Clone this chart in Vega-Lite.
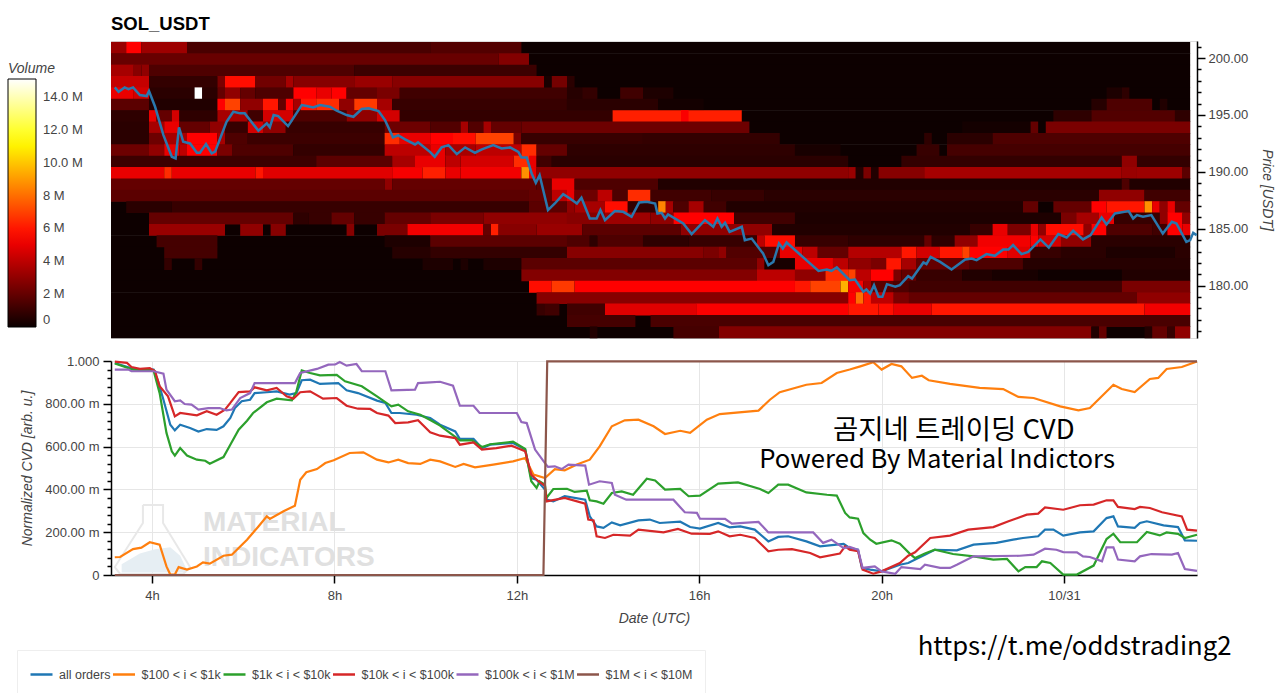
{"$schema":"https://vega.github.io/schema/vega-lite/v6.json","autosize":{"type":"pad"},"padding":{"left":7,"top":14,"right":0,"bottom":0},"background":"white",
"config":{"font":"Liberation Sans","axis":{"labelFont":"Liberation Sans","labelFontSize":13,"labelColor":"#444444","titleFont":"Liberation Sans","titleFontSize":14,"titleFontStyle":"italic","titleFontWeight":"normal","titleColor":"#444444","domainColor":"#000000","tickColor":"#000000","domainWidth":1.5,"tickWidth":1.5},"legend":{"labelFont":"Liberation Sans","titleFont":"Liberation Sans"}},
"datasets":{
"heat":[
{"minute":186,"end":1606,"price":200.9,"vol":0.05},{"minute":186,"end":1606,"price":199.9,"vol":0.05},{"minute":186,"end":1606,"price":198.9,"vol":0.05},{"minute":186,"end":1606,"price":197.9,"vol":0.05},{"minute":186,"end":1606,"price":196.9,"vol":0.05},{"minute":186,"end":1606,"price":195.9,"vol":0.05},{"minute":186,"end":1606,"price":194.9,"vol":0.05},{"minute":186,"end":1606,"price":193.9,"vol":0.05},{"minute":186,"end":1606,"price":192.9,"vol":0.05},{"minute":186,"end":1606,"price":191.9,"vol":0.05},{"minute":186,"end":1606,"price":190.9,"vol":0.05},{"minute":186,"end":1606,"price":189.9,"vol":0.05},{"minute":186,"end":1606,"price":188.9,"vol":0.05},{"minute":186,"end":1606,"price":187.9,"vol":0.05},{"minute":186,"end":1606,"price":186.9,"vol":0.05},{"minute":186,"end":1606,"price":185.9,"vol":0.05},{"minute":186,"end":1606,"price":184.9,"vol":0.05},{"minute":186,"end":1606,"price":183.9,"vol":0.05},{"minute":186,"end":1606,"price":182.9,"vol":0.05},{"minute":186,"end":1606,"price":181.9,"vol":0.05},{"minute":186,"end":1606,"price":180.9,"vol":0.05},{"minute":186,"end":1606,"price":179.9,"vol":0.05},{"minute":186,"end":1606,"price":178.9,"vol":0.05},{"minute":186,"end":1606,"price":177.9,"vol":0.05},{"minute":186,"end":1606,"price":176.9,"vol":0.05},{"minute":186,"end":1606,"price":175.9,"vol":0.05},
{"minute":186,"end":206,"price":200.9,"vol":3.2},{"minute":206,"end":226,"price":200.9,"vol":5.5},{"minute":226,"end":286,"price":200.9,"vol":3.3},{"minute":286,"end":606,"price":200.9,"vol":1.4},{"minute":606,"end":726,"price":200.9,"vol":1.6},
{"minute":186,"end":696,"price":199.9,"vol":2.1},{"minute":696,"end":736,"price":199.9,"vol":2.7},
{"minute":186,"end":216,"price":198.9,"vol":3.5},{"minute":216,"end":226,"price":198.9,"vol":2.8},{"minute":226,"end":236,"price":198.9,"vol":3},{"minute":236,"end":506,"price":198.9,"vol":1.5},{"minute":506,"end":746,"price":198.9,"vol":1.1},
{"minute":186,"end":236,"price":197.9,"vol":4.2},{"minute":236,"end":326,"price":197.9,"vol":0.9},{"minute":326,"end":336,"price":197.9,"vol":2.5},{"minute":336,"end":376,"price":197.9,"vol":5.8},{"minute":376,"end":416,"price":197.9,"vol":2.3},{"minute":416,"end":426,"price":197.9,"vol":3.5},{"minute":426,"end":506,"price":197.9,"vol":2.8},{"minute":506,"end":556,"price":197.9,"vol":3.2},{"minute":556,"end":756,"price":197.9,"vol":2.8},{"minute":756,"end":766,"price":197.9,"vol":0.3},{"minute":766,"end":786,"price":197.9,"vol":2.4},{"minute":786,"end":796,"price":197.9,"vol":0.7},
{"minute":186,"end":216,"price":196.9,"vol":5},{"minute":216,"end":236,"price":196.9,"vol":4.5},{"minute":236,"end":296,"price":196.9,"vol":0.7},{"minute":296,"end":306,"price":196.9,"vol":15.1},{"minute":306,"end":326,"price":196.9,"vol":0.7},{"minute":326,"end":336,"price":196.9,"vol":2},{"minute":336,"end":356,"price":196.9,"vol":3},{"minute":356,"end":376,"price":196.9,"vol":2},{"minute":376,"end":426,"price":196.9,"vol":1.5},{"minute":426,"end":456,"price":196.9,"vol":5.5},{"minute":456,"end":476,"price":196.9,"vol":5},{"minute":476,"end":496,"price":196.9,"vol":5.5},{"minute":496,"end":536,"price":196.9,"vol":2},{"minute":536,"end":566,"price":196.9,"vol":2.5},{"minute":566,"end":786,"price":196.9,"vol":1.2},{"minute":786,"end":806,"price":196.9,"vol":0.6},{"minute":806,"end":826,"price":196.9,"vol":0.9},{"minute":856,"end":886,"price":196.9,"vol":1.2},{"minute":886,"end":926,"price":196.9,"vol":0.4},{"minute":1496,"end":1516,"price":196.9,"vol":0.4},{"minute":1516,"end":1526,"price":196.9,"vol":0.8},
{"minute":186,"end":236,"price":195.9,"vol":1.8},{"minute":236,"end":326,"price":195.9,"vol":0.5},{"minute":326,"end":336,"price":195.9,"vol":5.5},{"minute":336,"end":356,"price":195.9,"vol":7},{"minute":356,"end":386,"price":195.9,"vol":3},{"minute":386,"end":406,"price":195.9,"vol":6},{"minute":406,"end":416,"price":195.9,"vol":2},{"minute":416,"end":426,"price":195.9,"vol":5.5},{"minute":426,"end":436,"price":195.9,"vol":3.5},{"minute":436,"end":456,"price":195.9,"vol":6},{"minute":456,"end":486,"price":195.9,"vol":6.5},{"minute":486,"end":506,"price":195.9,"vol":3},{"minute":506,"end":536,"price":195.9,"vol":6.8},{"minute":536,"end":556,"price":195.9,"vol":3.5},{"minute":556,"end":786,"price":195.9,"vol":1},{"minute":786,"end":906,"price":195.9,"vol":0.7},{"minute":906,"end":966,"price":195.9,"vol":0.2},{"minute":1476,"end":1496,"price":195.9,"vol":0.6},{"minute":1496,"end":1556,"price":195.9,"vol":1.5},{"minute":1566,"end":1576,"price":195.9,"vol":0.5},
{"minute":186,"end":236,"price":194.9,"vol":0.8},{"minute":236,"end":246,"price":194.9,"vol":5},{"minute":246,"end":266,"price":194.9,"vol":2},{"minute":266,"end":276,"price":194.9,"vol":4.5},{"minute":276,"end":326,"price":194.9,"vol":0.8},{"minute":326,"end":366,"price":194.9,"vol":3.5},{"minute":366,"end":386,"price":194.9,"vol":1.2},{"minute":386,"end":426,"price":194.9,"vol":4.5},{"minute":426,"end":496,"price":194.9,"vol":1.5},{"minute":496,"end":536,"price":194.9,"vol":3},{"minute":536,"end":566,"price":194.9,"vol":4.5},{"minute":566,"end":846,"price":194.9,"vol":0.9},{"minute":846,"end":1016,"price":194.9,"vol":6.2},{"minute":936,"end":946,"price":194.9,"vol":5.4},{"minute":1426,"end":1476,"price":194.9,"vol":0.8},{"minute":1476,"end":1586,"price":194.9,"vol":1.6},{"minute":1586,"end":1606,"price":194.9,"vol":0.8},
{"minute":186,"end":236,"price":193.9,"vol":0.7},{"minute":236,"end":256,"price":193.9,"vol":3.5},{"minute":256,"end":276,"price":193.9,"vol":5},{"minute":276,"end":316,"price":193.9,"vol":2},{"minute":316,"end":336,"price":193.9,"vol":3},{"minute":336,"end":366,"price":193.9,"vol":1},{"minute":366,"end":386,"price":193.9,"vol":4.5},{"minute":386,"end":416,"price":193.9,"vol":3},{"minute":416,"end":546,"price":193.9,"vol":1},{"minute":546,"end":606,"price":193.9,"vol":2.2},{"minute":606,"end":646,"price":193.9,"vol":1.6},{"minute":646,"end":656,"price":193.9,"vol":3.5},{"minute":656,"end":676,"price":193.9,"vol":1.6},{"minute":676,"end":686,"price":193.9,"vol":3.5},{"minute":686,"end":726,"price":193.9,"vol":2},{"minute":726,"end":1026,"price":193.9,"vol":2.2},{"minute":1306,"end":1396,"price":193.9,"vol":0.2},{"minute":1396,"end":1406,"price":193.9,"vol":2},{"minute":1416,"end":1606,"price":193.9,"vol":2.5},
{"minute":186,"end":236,"price":192.9,"vol":0.7},{"minute":236,"end":256,"price":192.9,"vol":2.2},{"minute":256,"end":286,"price":192.9,"vol":3.5},{"minute":286,"end":326,"price":192.9,"vol":5.5},{"minute":326,"end":336,"price":192.9,"vol":3.5},{"minute":336,"end":366,"price":192.9,"vol":1.5},{"minute":366,"end":546,"price":192.9,"vol":1.1},{"minute":546,"end":566,"price":192.9,"vol":6.5},{"minute":566,"end":606,"price":192.9,"vol":5},{"minute":606,"end":636,"price":192.9,"vol":5.5},{"minute":636,"end":666,"price":192.9,"vol":5.8},{"minute":666,"end":716,"price":192.9,"vol":7},{"minute":716,"end":726,"price":192.9,"vol":2.5},{"minute":726,"end":886,"price":192.9,"vol":1},{"minute":886,"end":1066,"price":192.9,"vol":0.9},{"minute":1256,"end":1266,"price":192.9,"vol":0.8},{"minute":1286,"end":1346,"price":192.9,"vol":0.7},{"minute":1346,"end":1606,"price":192.9,"vol":1.5},
{"minute":186,"end":236,"price":191.9,"vol":2.2},{"minute":236,"end":256,"price":191.9,"vol":3},{"minute":256,"end":276,"price":191.9,"vol":5},{"minute":276,"end":286,"price":191.9,"vol":4},{"minute":286,"end":326,"price":191.9,"vol":5.5},{"minute":326,"end":346,"price":191.9,"vol":2.5},{"minute":346,"end":426,"price":191.9,"vol":1.5},{"minute":426,"end":546,"price":191.9,"vol":0.9},{"minute":546,"end":606,"price":191.9,"vol":4},{"minute":606,"end":626,"price":191.9,"vol":5},{"minute":626,"end":666,"price":191.9,"vol":3.5},{"minute":666,"end":726,"price":191.9,"vol":4},{"minute":726,"end":746,"price":191.9,"vol":6.5},{"minute":746,"end":786,"price":191.9,"vol":2},{"minute":786,"end":1086,"price":191.9,"vol":0.8},{"minute":1086,"end":1146,"price":191.9,"vol":0.3},{"minute":1246,"end":1276,"price":191.9,"vol":1},{"minute":1286,"end":1606,"price":191.9,"vol":1.3},
{"minute":186,"end":456,"price":190.9,"vol":1.1},{"minute":456,"end":556,"price":190.9,"vol":1.8},{"minute":556,"end":586,"price":190.9,"vol":3.5},{"minute":586,"end":626,"price":190.9,"vol":5},{"minute":626,"end":646,"price":190.9,"vol":4},{"minute":646,"end":716,"price":190.9,"vol":4.5},{"minute":716,"end":736,"price":190.9,"vol":6.5},{"minute":736,"end":746,"price":190.9,"vol":5},{"minute":746,"end":766,"price":190.9,"vol":1.2},{"minute":766,"end":1156,"price":190.9,"vol":0.7},{"minute":1226,"end":1516,"price":190.9,"vol":0.9},{"minute":1516,"end":1536,"price":190.9,"vol":3},{"minute":1536,"end":1606,"price":190.9,"vol":0.9},
{"minute":186,"end":256,"price":189.9,"vol":5},{"minute":256,"end":266,"price":189.9,"vol":6.5},{"minute":266,"end":376,"price":189.9,"vol":5},{"minute":376,"end":386,"price":189.9,"vol":6},{"minute":386,"end":556,"price":189.9,"vol":4.8},{"minute":556,"end":596,"price":189.9,"vol":5.3},{"minute":596,"end":626,"price":189.9,"vol":6.2},{"minute":626,"end":646,"price":189.9,"vol":5},{"minute":646,"end":726,"price":189.9,"vol":5.2},{"minute":726,"end":736,"price":189.9,"vol":8.8},{"minute":736,"end":746,"price":189.9,"vol":5},{"minute":746,"end":1156,"price":189.9,"vol":3},{"minute":1156,"end":1166,"price":189.9,"vol":3.2},{"minute":1166,"end":1176,"price":189.9,"vol":0.5},{"minute":1176,"end":1186,"price":189.9,"vol":2.5},{"minute":1186,"end":1196,"price":189.9,"vol":0.5},{"minute":1196,"end":1256,"price":189.9,"vol":2.8},{"minute":1256,"end":1516,"price":189.9,"vol":3.5},{"minute":1516,"end":1536,"price":189.9,"vol":3.2},{"minute":1536,"end":1596,"price":189.9,"vol":3.3},{"minute":1596,"end":1606,"price":189.9,"vol":1.8},
{"minute":186,"end":546,"price":188.9,"vol":2},{"minute":546,"end":556,"price":188.9,"vol":3},{"minute":556,"end":746,"price":188.9,"vol":2},{"minute":746,"end":766,"price":188.9,"vol":1.8},{"minute":766,"end":796,"price":188.9,"vol":5},{"minute":796,"end":906,"price":188.9,"vol":1.5},{"minute":906,"end":1606,"price":188.9,"vol":0.5},{"minute":1516,"end":1526,"price":188.9,"vol":1.5},
{"minute":186,"end":736,"price":187.9,"vol":1.8},{"minute":736,"end":766,"price":187.9,"vol":2},{"minute":766,"end":786,"price":187.9,"vol":4},{"minute":786,"end":796,"price":187.9,"vol":5},{"minute":796,"end":826,"price":187.9,"vol":2.2},{"minute":826,"end":846,"price":187.9,"vol":4},{"minute":846,"end":866,"price":187.9,"vol":1.5},{"minute":866,"end":896,"price":187.9,"vol":6.5},{"minute":896,"end":976,"price":187.9,"vol":1.2},{"minute":976,"end":1046,"price":187.9,"vol":1},{"minute":1046,"end":1486,"price":187.9,"vol":0.7},{"minute":1486,"end":1546,"price":187.9,"vol":3},{"minute":1546,"end":1606,"price":187.9,"vol":1.2},
{"minute":206,"end":266,"price":186.9,"vol":0.7},{"minute":266,"end":736,"price":186.9,"vol":1},{"minute":736,"end":786,"price":186.9,"vol":1.8},{"minute":786,"end":796,"price":186.9,"vol":3},{"minute":796,"end":836,"price":186.9,"vol":3.5},{"minute":836,"end":866,"price":186.9,"vol":5.8},{"minute":866,"end":906,"price":186.9,"vol":0.9},{"minute":906,"end":916,"price":186.9,"vol":8.5},{"minute":916,"end":926,"price":186.9,"vol":3.5},{"minute":926,"end":946,"price":186.9,"vol":1.5},{"minute":946,"end":966,"price":186.9,"vol":3.5},{"minute":966,"end":996,"price":186.9,"vol":1.2},{"minute":996,"end":1386,"price":186.9,"vol":0.5},{"minute":1386,"end":1406,"price":186.9,"vol":2},{"minute":1426,"end":1476,"price":186.9,"vol":2},{"minute":1476,"end":1496,"price":186.9,"vol":5.5},{"minute":1496,"end":1546,"price":186.9,"vol":6},{"minute":1546,"end":1556,"price":186.9,"vol":8.8},{"minute":1556,"end":1566,"price":186.9,"vol":5},{"minute":1566,"end":1576,"price":186.9,"vol":3},{"minute":1576,"end":1586,"price":186.9,"vol":5},{"minute":1586,"end":1606,"price":186.9,"vol":2},
{"minute":236,"end":426,"price":185.9,"vol":2},{"minute":426,"end":446,"price":185.9,"vol":0.8},{"minute":446,"end":476,"price":185.9,"vol":1},{"minute":476,"end":506,"price":185.9,"vol":2},{"minute":506,"end":546,"price":185.9,"vol":1},{"minute":546,"end":606,"price":185.9,"vol":2},{"minute":606,"end":676,"price":185.9,"vol":2.5},{"minute":676,"end":786,"price":185.9,"vol":3},{"minute":786,"end":836,"price":185.9,"vol":2.8},{"minute":836,"end":896,"price":185.9,"vol":3.3},{"minute":896,"end":926,"price":185.9,"vol":3},{"minute":926,"end":1006,"price":185.9,"vol":5.5},{"minute":1006,"end":1086,"price":185.9,"vol":1.2},{"minute":1086,"end":1436,"price":185.9,"vol":0.4},{"minute":1436,"end":1456,"price":185.9,"vol":2.5},{"minute":1456,"end":1486,"price":185.9,"vol":3.5},{"minute":1486,"end":1506,"price":185.9,"vol":5},{"minute":1506,"end":1566,"price":185.9,"vol":1},{"minute":1566,"end":1576,"price":185.9,"vol":3},{"minute":1576,"end":1596,"price":185.9,"vol":5.5},{"minute":1596,"end":1606,"price":185.9,"vol":3},
{"minute":236,"end":336,"price":184.9,"vol":3.2},{"minute":356,"end":386,"price":184.9,"vol":3},{"minute":396,"end":416,"price":184.9,"vol":2.8},{"minute":496,"end":506,"price":184.9,"vol":2.8},{"minute":536,"end":576,"price":184.9,"vol":2.5},{"minute":576,"end":676,"price":184.9,"vol":5.2},{"minute":676,"end":686,"price":184.9,"vol":2},{"minute":686,"end":696,"price":184.9,"vol":6.2},{"minute":696,"end":746,"price":184.9,"vol":2.8},{"minute":746,"end":806,"price":184.9,"vol":3.2},{"minute":806,"end":936,"price":184.9,"vol":1.8},{"minute":936,"end":1056,"price":184.9,"vol":3},{"minute":1056,"end":1316,"price":184.9,"vol":0.5},{"minute":1316,"end":1346,"price":184.9,"vol":1},{"minute":1346,"end":1366,"price":184.9,"vol":5},{"minute":1366,"end":1396,"price":184.9,"vol":2.5},{"minute":1396,"end":1406,"price":184.9,"vol":5},{"minute":1406,"end":1416,"price":184.9,"vol":3},{"minute":1416,"end":1466,"price":184.9,"vol":5.8},{"minute":1466,"end":1476,"price":184.9,"vol":3},{"minute":1476,"end":1496,"price":184.9,"vol":5.5},{"minute":1496,"end":1556,"price":184.9,"vol":1.5},{"minute":1556,"end":1576,"price":184.9,"vol":1.2},{"minute":1576,"end":1596,"price":184.9,"vol":5.5},{"minute":1596,"end":1606,"price":184.9,"vol":5},
{"minute":246,"end":326,"price":183.9,"vol":1.3},{"minute":546,"end":606,"price":183.9,"vol":0.4},{"minute":606,"end":786,"price":183.9,"vol":1.8},{"minute":786,"end":816,"price":183.9,"vol":1.5},{"minute":816,"end":826,"price":183.9,"vol":0.8},{"minute":826,"end":886,"price":183.9,"vol":1.5},{"minute":886,"end":946,"price":183.9,"vol":0.8},{"minute":946,"end":1036,"price":183.9,"vol":1},{"minute":1036,"end":1046,"price":183.9,"vol":4},{"minute":1046,"end":1086,"price":183.9,"vol":5.8},{"minute":1086,"end":1156,"price":183.9,"vol":1},{"minute":1156,"end":1256,"price":183.9,"vol":0.8},{"minute":1256,"end":1266,"price":183.9,"vol":2},{"minute":1266,"end":1296,"price":183.9,"vol":0.8},{"minute":1296,"end":1326,"price":183.9,"vol":3},{"minute":1326,"end":1396,"price":183.9,"vol":5.2},{"minute":1396,"end":1406,"price":183.9,"vol":5.5},{"minute":1406,"end":1436,"price":183.9,"vol":4.5},{"minute":1436,"end":1476,"price":183.9,"vol":3},{"minute":1476,"end":1606,"price":183.9,"vol":0.7},
{"minute":256,"end":326,"price":182.9,"vol":1.3},{"minute":556,"end":606,"price":182.9,"vol":0.6},{"minute":606,"end":786,"price":182.9,"vol":0.9},{"minute":786,"end":966,"price":182.9,"vol":2.8},{"minute":966,"end":986,"price":182.9,"vol":2.5},{"minute":986,"end":996,"price":182.9,"vol":3},{"minute":996,"end":1066,"price":182.9,"vol":1.6},{"minute":1066,"end":1096,"price":182.9,"vol":5},{"minute":1096,"end":1116,"price":182.9,"vol":4},{"minute":1116,"end":1156,"price":182.9,"vol":2},{"minute":1156,"end":1226,"price":182.9,"vol":3.8},{"minute":1226,"end":1246,"price":182.9,"vol":6},{"minute":1246,"end":1276,"price":182.9,"vol":4.5},{"minute":1276,"end":1306,"price":182.9,"vol":6},{"minute":1306,"end":1316,"price":182.9,"vol":7},{"minute":1316,"end":1366,"price":182.9,"vol":5.5},{"minute":1366,"end":1396,"price":182.9,"vol":4.8},{"minute":1396,"end":1436,"price":182.9,"vol":1},{"minute":1436,"end":1496,"price":182.9,"vol":0.7},{"minute":1496,"end":1586,"price":182.9,"vol":0.4},{"minute":1586,"end":1606,"price":182.9,"vol":0.7},
{"minute":256,"end":266,"price":181.9,"vol":0.9},{"minute":296,"end":306,"price":181.9,"vol":0.9},{"minute":596,"end":636,"price":181.9,"vol":0.4},{"minute":646,"end":656,"price":181.9,"vol":0.4},{"minute":676,"end":726,"price":181.9,"vol":0.4},{"minute":726,"end":1036,"price":181.9,"vol":1.8},{"minute":1036,"end":1046,"price":181.9,"vol":3},{"minute":1046,"end":1086,"price":181.9,"vol":0.3},{"minute":1086,"end":1136,"price":181.9,"vol":5},{"minute":1136,"end":1156,"price":181.9,"vol":4},{"minute":1156,"end":1186,"price":181.9,"vol":3},{"minute":1186,"end":1206,"price":181.9,"vol":2.5},{"minute":1206,"end":1226,"price":181.9,"vol":6},{"minute":1226,"end":1246,"price":181.9,"vol":3.5},{"minute":1246,"end":1316,"price":181.9,"vol":2},{"minute":1316,"end":1386,"price":181.9,"vol":1.5},{"minute":1386,"end":1606,"price":181.9,"vol":0.6},
{"minute":726,"end":1036,"price":180.9,"vol":2.7},{"minute":1036,"end":1086,"price":180.9,"vol":4},{"minute":1086,"end":1126,"price":180.9,"vol":3},{"minute":1126,"end":1156,"price":180.9,"vol":6.5},{"minute":1156,"end":1166,"price":180.9,"vol":7},{"minute":1166,"end":1186,"price":180.9,"vol":4},{"minute":1186,"end":1216,"price":180.9,"vol":5.5},{"minute":1216,"end":1226,"price":180.9,"vol":2.5},{"minute":1226,"end":1246,"price":180.9,"vol":2},{"minute":1246,"end":1306,"price":180.9,"vol":1},{"minute":1306,"end":1346,"price":180.9,"vol":0.5},{"minute":1346,"end":1406,"price":180.9,"vol":0.3},{"minute":1406,"end":1516,"price":180.9,"vol":0.1},{"minute":1516,"end":1606,"price":180.9,"vol":0.5},
{"minute":736,"end":766,"price":179.9,"vol":5.8},{"minute":766,"end":796,"price":179.9,"vol":6.8},{"minute":796,"end":1086,"price":179.9,"vol":5.5},{"minute":1086,"end":1106,"price":179.9,"vol":6},{"minute":1106,"end":1146,"price":179.9,"vol":7},{"minute":1146,"end":1156,"price":179.9,"vol":9.5},{"minute":1156,"end":1176,"price":179.9,"vol":5.3},{"minute":1176,"end":1186,"price":179.9,"vol":3.5},{"minute":1186,"end":1216,"price":179.9,"vol":1.8},{"minute":1216,"end":1236,"price":179.9,"vol":1.5},{"minute":1236,"end":1516,"price":179.9,"vol":1.2},{"minute":1516,"end":1606,"price":179.9,"vol":2.5},
{"minute":746,"end":1156,"price":178.9,"vol":2.8},{"minute":1156,"end":1166,"price":178.9,"vol":5.5},{"minute":1166,"end":1176,"price":178.9,"vol":8},{"minute":1176,"end":1186,"price":178.9,"vol":6},{"minute":1186,"end":1216,"price":178.9,"vol":4},{"minute":1216,"end":1236,"price":178.9,"vol":2.5},{"minute":1236,"end":1536,"price":178.9,"vol":2},{"minute":1536,"end":1606,"price":178.9,"vol":3},
{"minute":746,"end":756,"price":177.9,"vol":1},{"minute":756,"end":776,"price":177.9,"vol":1.2},{"minute":786,"end":836,"price":177.9,"vol":1.2},{"minute":836,"end":956,"price":177.9,"vol":4.8},{"minute":956,"end":1156,"price":177.9,"vol":5.4},{"minute":1156,"end":1196,"price":177.9,"vol":6},{"minute":1196,"end":1216,"price":177.9,"vol":5.8},{"minute":1216,"end":1266,"price":177.9,"vol":5},{"minute":1266,"end":1546,"price":177.9,"vol":6},{"minute":1546,"end":1606,"price":177.9,"vol":5.2},
{"minute":786,"end":876,"price":176.9,"vol":1.3},{"minute":896,"end":1606,"price":176.9,"vol":1.4},
{"minute":816,"end":826,"price":175.9,"vol":0.5},{"minute":926,"end":986,"price":175.9,"vol":1.3},{"minute":986,"end":1476,"price":175.9,"vol":2.7},{"minute":1476,"end":1486,"price":175.9,"vol":0.5},{"minute":1486,"end":1496,"price":175.9,"vol":2},{"minute":1546,"end":1556,"price":175.9,"vol":0.5},{"minute":1556,"end":1576,"price":175.9,"vol":2},{"minute":1576,"end":1586,"price":175.9,"vol":1},{"minute":1586,"end":1606,"price":175.9,"vol":3}
],
"priceLine":[{"minute":191,"price":197.42},{"minute":196,"price":197.04},{"minute":204,"price":197.42},{"minute":209,"price":197.27},{"minute":215,"price":197.42},{"minute":224,"price":196.75},{"minute":233,"price":196.66},{"minute":236,"price":197.1},{"minute":244,"price":195.72},{"minute":255,"price":193.23},{"minute":266,"price":191.33},{"minute":271,"price":191.18},{"minute":275.5,"price":193.91},{"minute":281,"price":192.65},{"minute":290,"price":192.5},{"minute":299,"price":191.68},{"minute":303,"price":191.68},{"minute":311,"price":192.44},{"minute":318.5,"price":191.62},{"minute":323,"price":191.77},{"minute":338,"price":194.4},{"minute":347,"price":195.28},{"minute":356,"price":195.14},{"minute":362,"price":195.14},{"minute":380,"price":193.61},{"minute":391,"price":194.26},{"minute":395,"price":193.91},{"minute":400,"price":194.99},{"minute":406,"price":194.9},{"minute":419,"price":194.02},{"minute":437,"price":195.87},{"minute":443.5,"price":195.78},{"minute":452,"price":195.66},{"minute":461,"price":195.87},{"minute":474,"price":195.72},{"minute":483,"price":195.37},{"minute":496,"price":194.99},{"minute":505,"price":194.84},{"minute":516,"price":195.52},{"minute":525,"price":195.58},{"minute":538,"price":195.34},{"minute":546.5,"price":194.55},{"minute":557,"price":193.03},{"minute":564,"price":193.2},{"minute":573,"price":192.85},{"minute":586,"price":192.41},{"minute":590,"price":192.59},{"minute":606,"price":191.74},{"minute":612,"price":191.32},{"minute":621,"price":192.15},{"minute":630,"price":192.35},{"minute":641,"price":191.56},{"minute":652,"price":192.15},{"minute":665,"price":191.68},{"minute":674,"price":191.97},{"minute":689,"price":192.35},{"minute":700,"price":192.06},{"minute":711,"price":192.15},{"minute":722,"price":191.76},{"minute":726,"price":191.27},{"minute":733,"price":191.27},{"minute":739.5,"price":189.86},{"minute":745,"price":189.04},{"minute":750,"price":189.71},{"minute":761,"price":186.64},{"minute":770,"price":187.22},{"minute":781,"price":188.04},{"minute":790,"price":187.66},{"minute":799,"price":187.22},{"minute":805,"price":187.72},{"minute":816,"price":185.9},{"minute":825,"price":185.9},{"minute":830,"price":186.64},{"minute":836,"price":185.76},{"minute":849,"price":186.55},{"minute":860,"price":186.49},{"minute":871,"price":186.05},{"minute":881,"price":187.31},{"minute":891,"price":187.37},{"minute":902,"price":187.22},{"minute":905,"price":186.34},{"minute":910.5,"price":186.4},{"minute":915,"price":185.9},{"minute":919,"price":186.26},{"minute":939,"price":185.46},{"minute":950,"price":184.53},{"minute":967.5,"price":185.76},{"minute":978.5,"price":185.17},{"minute":984,"price":185.9},{"minute":989.5,"price":185.17},{"minute":994,"price":185.52},{"minute":1000,"price":184.73},{"minute":1016,"price":185.17},{"minute":1020,"price":184},{"minute":1029,"price":184.14},{"minute":1044,"price":182.83},{"minute":1051,"price":181.8},{"minute":1057.5,"price":182.09},{"minute":1065,"price":183.71},{"minute":1070,"price":183.27},{"minute":1075,"price":183.79},{"minute":1103.5,"price":182.09},{"minute":1117,"price":181.3},{"minute":1128,"price":181.42},{"minute":1134,"price":181.3},{"minute":1141,"price":181.6},{"minute":1158,"price":180.48},{"minute":1165,"price":180.54},{"minute":1176,"price":179.46},{"minute":1180,"price":179.66},{"minute":1185,"price":179.31},{"minute":1190,"price":180.04},{"minute":1196,"price":179.02},{"minute":1201,"price":179.02},{"minute":1207,"price":180.13},{"minute":1218,"price":179.9},{"minute":1224,"price":180.04},{"minute":1235,"price":180.83},{"minute":1240,"price":180.63},{"minute":1255,"price":182.04},{"minute":1259,"price":181.89},{"minute":1264.5,"price":182.53},{"minute":1277,"price":182.09},{"minute":1292,"price":181.42},{"minute":1310,"price":182.3},{"minute":1318.5,"price":182.39},{"minute":1325,"price":182.24},{"minute":1338,"price":182.77},{"minute":1349,"price":182.62},{"minute":1360,"price":183.18},{"minute":1367,"price":183.18},{"minute":1373,"price":183.56},{"minute":1384,"price":182.77},{"minute":1393,"price":182.97},{"minute":1409,"price":184.06},{"minute":1420,"price":183.35},{"minute":1432.5,"price":184.53},{"minute":1443.5,"price":184.23},{"minute":1452,"price":184.82},{"minute":1465,"price":184.06},{"minute":1475,"price":184.44},{"minute":1489.5,"price":185.99},{"minute":1496,"price":185.38},{"minute":1507,"price":186.34},{"minute":1525,"price":186.55},{"minute":1531,"price":185.9},{"minute":1536,"price":186.2},{"minute":1544,"price":186.05},{"minute":1555,"price":186.2},{"minute":1570,"price":184.58},{"minute":1582,"price":185.61},{"minute":1588,"price":185.46},{"minute":1601,"price":183.85},{"minute":1606,"price":184},{"minute":1610,"price":184.64},{"minute":1614.5,"price":184.44}],
"cvd":[
{"series":"all orders","minute":191,"cvd":0.991},{"series":"all orders","minute":215,"cvd":0.963},{"series":"all orders","minute":242,"cvd":0.96},{"series":"all orders","minute":248,"cvd":0.905},{"series":"all orders","minute":255,"cvd":0.819},{"series":"all orders","minute":264,"cvd":0.702},{"series":"all orders","minute":270,"cvd":0.676},{"series":"all orders","minute":277,"cvd":0.702},{"series":"all orders","minute":290,"cvd":0.687},{"series":"all orders","minute":301,"cvd":0.67},{"series":"all orders","minute":312,"cvd":0.682},{"series":"all orders","minute":325,"cvd":0.678},{"series":"all orders","minute":334,"cvd":0.695},{"series":"all orders","minute":343,"cvd":0.734},{"series":"all orders","minute":349,"cvd":0.78},{"series":"all orders","minute":358,"cvd":0.812},{"series":"all orders","minute":369,"cvd":0.819},{"series":"all orders","minute":375,"cvd":0.85},{"series":"all orders","minute":391,"cvd":0.854},{"series":"all orders","minute":404,"cvd":0.858},{"series":"all orders","minute":421,"cvd":0.843},{"series":"all orders","minute":430,"cvd":0.85},{"series":"all orders","minute":437,"cvd":0.91},{"series":"all orders","minute":448,"cvd":0.913},{"series":"all orders","minute":461,"cvd":0.893},{"series":"all orders","minute":485,"cvd":0.897},{"series":"all orders","minute":496,"cvd":0.863},{"series":"all orders","minute":511,"cvd":0.85},{"series":"all orders","minute":536,"cvd":0.815},{"series":"all orders","minute":547,"cvd":0.804},{"series":"all orders","minute":555,"cvd":0.757},{"series":"all orders","minute":566,"cvd":0.757},{"series":"all orders","minute":588,"cvd":0.749},{"series":"all orders","minute":606,"cvd":0.734},{"series":"all orders","minute":619,"cvd":0.702},{"series":"all orders","minute":639,"cvd":0.671},{"series":"all orders","minute":645,"cvd":0.636},{"series":"all orders","minute":663,"cvd":0.636},{"series":"all orders","minute":674,"cvd":0.593},{"series":"all orders","minute":685,"cvd":0.609},{"series":"all orders","minute":715,"cvd":0.617},{"series":"all orders","minute":731,"cvd":0.586},{"series":"all orders","minute":739,"cvd":0.453},{"series":"all orders","minute":746,"cvd":0.445},{"series":"all orders","minute":757,"cvd":0.399},{"series":"all orders","minute":759,"cvd":0.352},{"series":"all orders","minute":768,"cvd":0.344},{"series":"all orders","minute":783,"cvd":0.368},{"series":"all orders","minute":810,"cvd":0.352},{"series":"all orders","minute":816,"cvd":0.274},{"series":"all orders","minute":825,"cvd":0.227},{"series":"all orders","minute":834,"cvd":0.22},{"series":"all orders","minute":845,"cvd":0.246},{"series":"all orders","minute":856,"cvd":0.232},{"series":"all orders","minute":880,"cvd":0.255},{"series":"all orders","minute":895,"cvd":0.259},{"series":"all orders","minute":908,"cvd":0.243},{"series":"all orders","minute":935,"cvd":0.249},{"series":"all orders","minute":948,"cvd":0.224},{"series":"all orders","minute":961,"cvd":0.217},{"series":"all orders","minute":985,"cvd":0.243},{"series":"all orders","minute":1000,"cvd":0.223},{"series":"all orders","minute":1014,"cvd":0.227},{"series":"all orders","minute":1033,"cvd":0.212},{"series":"all orders","minute":1051,"cvd":0.157},{"series":"all orders","minute":1064,"cvd":0.178},{"series":"all orders","minute":1077,"cvd":0.181},{"series":"all orders","minute":1101,"cvd":0.157},{"series":"all orders","minute":1119,"cvd":0.134},{"series":"all orders","minute":1150,"cvd":0.145},{"series":"all orders","minute":1158,"cvd":0.126},{"series":"all orders","minute":1169,"cvd":0.118},{"series":"all orders","minute":1174,"cvd":0.033},{"series":"all orders","minute":1185,"cvd":0.025},{"series":"all orders","minute":1200,"cvd":0.017},{"series":"all orders","minute":1224,"cvd":0.048},{"series":"all orders","minute":1235,"cvd":0.056},{"series":"all orders","minute":1257,"cvd":0.095},{"series":"all orders","minute":1270,"cvd":0.118},{"series":"all orders","minute":1299,"cvd":0.115},{"series":"all orders","minute":1321,"cvd":0.142},{"series":"all orders","minute":1351,"cvd":0.15},{"series":"all orders","minute":1373,"cvd":0.165},{"series":"all orders","minute":1386,"cvd":0.173},{"series":"all orders","minute":1406,"cvd":0.181},{"series":"all orders","minute":1415,"cvd":0.212},{"series":"all orders","minute":1426,"cvd":0.212},{"series":"all orders","minute":1439,"cvd":0.184},{"series":"all orders","minute":1461,"cvd":0.199},{"series":"all orders","minute":1479,"cvd":0.204},{"series":"all orders","minute":1496,"cvd":0.266},{"series":"all orders","minute":1505,"cvd":0.274},{"series":"all orders","minute":1511,"cvd":0.227},{"series":"all orders","minute":1533,"cvd":0.22},{"series":"all orders","minute":1540,"cvd":0.243},{"series":"all orders","minute":1549,"cvd":0.251},{"series":"all orders","minute":1571,"cvd":0.232},{"series":"all orders","minute":1590,"cvd":0.224},{"series":"all orders","minute":1599,"cvd":0.162},{"series":"all orders","minute":1615,"cvd":0.16},
{"series":"$100 < i < $1k","minute":191,"cvd":0.083},{"series":"$100 < i < $1k","minute":198,"cvd":0.084},{"series":"$100 < i < $1k","minute":215,"cvd":0.121},{"series":"$100 < i < $1k","minute":226,"cvd":0.128},{"series":"$100 < i < $1k","minute":237,"cvd":0.153},{"series":"$100 < i < $1k","minute":250,"cvd":0.142},{"series":"$100 < i < $1k","minute":259,"cvd":0.04},{"series":"$100 < i < $1k","minute":264,"cvd":0.002},{"series":"$100 < i < $1k","minute":270,"cvd":0.002},{"series":"$100 < i < $1k","minute":275,"cvd":0.037},{"series":"$100 < i < $1k","minute":286,"cvd":0.025},{"series":"$100 < i < $1k","minute":299,"cvd":0.04},{"series":"$100 < i < $1k","minute":307,"cvd":0.059},{"series":"$100 < i < $1k","minute":316,"cvd":0.053},{"series":"$100 < i < $1k","minute":334,"cvd":0.09},{"series":"$100 < i < $1k","minute":345,"cvd":0.095},{"series":"$100 < i < $1k","minute":365,"cvd":0.165},{"series":"$100 < i < $1k","minute":380,"cvd":0.227},{"series":"$100 < i < $1k","minute":391,"cvd":0.274},{"series":"$100 < i < $1k","minute":395,"cvd":0.262},{"series":"$100 < i < $1k","minute":413,"cvd":0.298},{"series":"$100 < i < $1k","minute":428,"cvd":0.324},{"series":"$100 < i < $1k","minute":435,"cvd":0.445},{"series":"$100 < i < $1k","minute":443,"cvd":0.48},{"series":"$100 < i < $1k","minute":457,"cvd":0.495},{"series":"$100 < i < $1k","minute":468,"cvd":0.523},{"series":"$100 < i < $1k","minute":479,"cvd":0.536},{"series":"$100 < i < $1k","minute":500,"cvd":0.57},{"series":"$100 < i < $1k","minute":518,"cvd":0.573},{"series":"$100 < i < $1k","minute":536,"cvd":0.539},{"series":"$100 < i < $1k","minute":551,"cvd":0.526},{"series":"$100 < i < $1k","minute":564,"cvd":0.539},{"series":"$100 < i < $1k","minute":577,"cvd":0.523},{"series":"$100 < i < $1k","minute":593,"cvd":0.519},{"series":"$100 < i < $1k","minute":606,"cvd":0.539},{"series":"$100 < i < $1k","minute":619,"cvd":0.531},{"series":"$100 < i < $1k","minute":639,"cvd":0.505},{"series":"$100 < i < $1k","minute":650,"cvd":0.519},{"series":"$100 < i < $1k","minute":665,"cvd":0.503},{"series":"$100 < i < $1k","minute":689,"cvd":0.516},{"series":"$100 < i < $1k","minute":715,"cvd":0.531},{"series":"$100 < i < $1k","minute":731,"cvd":0.547},{"series":"$100 < i < $1k","minute":742,"cvd":0.469},{"series":"$100 < i < $1k","minute":757,"cvd":0.453},{"series":"$100 < i < $1k","minute":770,"cvd":0.495},{"series":"$100 < i < $1k","minute":783,"cvd":0.489},{"series":"$100 < i < $1k","minute":799,"cvd":0.516},{"series":"$100 < i < $1k","minute":816,"cvd":0.539},{"series":"$100 < i < $1k","minute":829,"cvd":0.601},{"series":"$100 < i < $1k","minute":845,"cvd":0.695},{"series":"$100 < i < $1k","minute":862,"cvd":0.723},{"series":"$100 < i < $1k","minute":880,"cvd":0.726},{"series":"$100 < i < $1k","minute":900,"cvd":0.695},{"series":"$100 < i < $1k","minute":915,"cvd":0.659},{"series":"$100 < i < $1k","minute":935,"cvd":0.674},{"series":"$100 < i < $1k","minute":948,"cvd":0.664},{"series":"$100 < i < $1k","minute":970,"cvd":0.726},{"series":"$100 < i < $1k","minute":987,"cvd":0.752},{"series":"$100 < i < $1k","minute":1038,"cvd":0.768},{"series":"$100 < i < $1k","minute":1053,"cvd":0.819},{"series":"$100 < i < $1k","minute":1066,"cvd":0.854},{"series":"$100 < i < $1k","minute":1101,"cvd":0.889},{"series":"$100 < i < $1k","minute":1121,"cvd":0.897},{"series":"$100 < i < $1k","minute":1141,"cvd":0.944},{"series":"$100 < i < $1k","minute":1158,"cvd":0.96},{"series":"$100 < i < $1k","minute":1172,"cvd":0.975},{"series":"$100 < i < $1k","minute":1189,"cvd":0.994},{"series":"$100 < i < $1k","minute":1200,"cvd":0.96},{"series":"$100 < i < $1k","minute":1213,"cvd":0.986},{"series":"$100 < i < $1k","minute":1226,"cvd":0.975},{"series":"$100 < i < $1k","minute":1240,"cvd":0.921},{"series":"$100 < i < $1k","minute":1253,"cvd":0.931},{"series":"$100 < i < $1k","minute":1262,"cvd":0.91},{"series":"$100 < i < $1k","minute":1290,"cvd":0.893},{"series":"$100 < i < $1k","minute":1329,"cvd":0.874},{"series":"$100 < i < $1k","minute":1360,"cvd":0.869},{"series":"$100 < i < $1k","minute":1380,"cvd":0.832},{"series":"$100 < i < $1k","minute":1400,"cvd":0.827},{"series":"$100 < i < $1k","minute":1435,"cvd":0.788},{"series":"$100 < i < $1k","minute":1459,"cvd":0.769},{"series":"$100 < i < $1k","minute":1474,"cvd":0.78},{"series":"$100 < i < $1k","minute":1505,"cvd":0.889},{"series":"$100 < i < $1k","minute":1516,"cvd":0.869},{"series":"$100 < i < $1k","minute":1533,"cvd":0.855},{"series":"$100 < i < $1k","minute":1553,"cvd":0.916},{"series":"$100 < i < $1k","minute":1564,"cvd":0.921},{"series":"$100 < i < $1k","minute":1575,"cvd":0.963},{"series":"$100 < i < $1k","minute":1595,"cvd":0.972},{"series":"$100 < i < $1k","minute":1615,"cvd":0.998},
{"series":"$1k < i < $10k","minute":191,"cvd":0.988},{"series":"$1k < i < $10k","minute":215,"cvd":0.96},{"series":"$1k < i < $10k","minute":242,"cvd":0.956},{"series":"$1k < i < $10k","minute":250,"cvd":0.85},{"series":"$1k < i < $10k","minute":259,"cvd":0.664},{"series":"$1k < i < $10k","minute":266,"cvd":0.578},{"series":"$1k < i < $10k","minute":270,"cvd":0.558},{"series":"$1k < i < $10k","minute":277,"cvd":0.593},{"series":"$1k < i < $10k","minute":286,"cvd":0.558},{"series":"$1k < i < $10k","minute":299,"cvd":0.539},{"series":"$1k < i < $10k","minute":310,"cvd":0.534},{"series":"$1k < i < $10k","minute":316,"cvd":0.52},{"series":"$1k < i < $10k","minute":334,"cvd":0.551},{"series":"$1k < i < $10k","minute":343,"cvd":0.609},{"series":"$1k < i < $10k","minute":354,"cvd":0.679},{"series":"$1k < i < $10k","minute":365,"cvd":0.721},{"series":"$1k < i < $10k","minute":373,"cvd":0.757},{"series":"$1k < i < $10k","minute":391,"cvd":0.807},{"series":"$1k < i < $10k","minute":404,"cvd":0.824},{"series":"$1k < i < $10k","minute":424,"cvd":0.816},{"series":"$1k < i < $10k","minute":430,"cvd":0.858},{"series":"$1k < i < $10k","minute":437,"cvd":0.956},{"series":"$1k < i < $10k","minute":448,"cvd":0.944},{"series":"$1k < i < $10k","minute":461,"cvd":0.933},{"series":"$1k < i < $10k","minute":483,"cvd":0.935},{"series":"$1k < i < $10k","minute":494,"cvd":0.905},{"series":"$1k < i < $10k","minute":516,"cvd":0.882},{"series":"$1k < i < $10k","minute":536,"cvd":0.835},{"series":"$1k < i < $10k","minute":555,"cvd":0.788},{"series":"$1k < i < $10k","minute":564,"cvd":0.796},{"series":"$1k < i < $10k","minute":577,"cvd":0.765},{"series":"$1k < i < $10k","minute":593,"cvd":0.749},{"series":"$1k < i < $10k","minute":606,"cvd":0.724},{"series":"$1k < i < $10k","minute":619,"cvd":0.698},{"series":"$1k < i < $10k","minute":639,"cvd":0.645},{"series":"$1k < i < $10k","minute":645,"cvd":0.629},{"series":"$1k < i < $10k","minute":661,"cvd":0.629},{"series":"$1k < i < $10k","minute":674,"cvd":0.598},{"series":"$1k < i < $10k","minute":685,"cvd":0.611},{"series":"$1k < i < $10k","minute":715,"cvd":0.623},{"series":"$1k < i < $10k","minute":731,"cvd":0.589},{"series":"$1k < i < $10k","minute":739,"cvd":0.438},{"series":"$1k < i < $10k","minute":746,"cvd":0.407},{"series":"$1k < i < $10k","minute":750,"cvd":0.438},{"series":"$1k < i < $10k","minute":757,"cvd":0.422},{"series":"$1k < i < $10k","minute":759,"cvd":0.36},{"series":"$1k < i < $10k","minute":768,"cvd":0.402},{"series":"$1k < i < $10k","minute":786,"cvd":0.403},{"series":"$1k < i < $10k","minute":796,"cvd":0.388},{"series":"$1k < i < $10k","minute":812,"cvd":0.394},{"series":"$1k < i < $10k","minute":816,"cvd":0.349},{"series":"$1k < i < $10k","minute":825,"cvd":0.344},{"series":"$1k < i < $10k","minute":834,"cvd":0.333},{"series":"$1k < i < $10k","minute":845,"cvd":0.383},{"series":"$1k < i < $10k","minute":858,"cvd":0.391},{"series":"$1k < i < $10k","minute":873,"cvd":0.375},{"series":"$1k < i < $10k","minute":891,"cvd":0.45},{"series":"$1k < i < $10k","minute":902,"cvd":0.442},{"series":"$1k < i < $10k","minute":915,"cvd":0.399},{"series":"$1k < i < $10k","minute":935,"cvd":0.402},{"series":"$1k < i < $10k","minute":946,"cvd":0.368},{"series":"$1k < i < $10k","minute":961,"cvd":0.371},{"series":"$1k < i < $10k","minute":985,"cvd":0.427},{"series":"$1k < i < $10k","minute":1011,"cvd":0.433},{"series":"$1k < i < $10k","minute":1040,"cvd":0.402},{"series":"$1k < i < $10k","minute":1051,"cvd":0.383},{"series":"$1k < i < $10k","minute":1064,"cvd":0.422},{"series":"$1k < i < $10k","minute":1077,"cvd":0.422},{"series":"$1k < i < $10k","minute":1101,"cvd":0.386},{"series":"$1k < i < $10k","minute":1128,"cvd":0.375},{"series":"$1k < i < $10k","minute":1141,"cvd":0.371},{"series":"$1k < i < $10k","minute":1152,"cvd":0.29},{"series":"$1k < i < $10k","minute":1158,"cvd":0.269},{"series":"$1k < i < $10k","minute":1169,"cvd":0.263},{"series":"$1k < i < $10k","minute":1176,"cvd":0.196},{"series":"$1k < i < $10k","minute":1185,"cvd":0.165},{"series":"$1k < i < $10k","minute":1193,"cvd":0.146},{"series":"$1k < i < $10k","minute":1213,"cvd":0.162},{"series":"$1k < i < $10k","minute":1224,"cvd":0.146},{"series":"$1k < i < $10k","minute":1237,"cvd":0.1},{"series":"$1k < i < $10k","minute":1244,"cvd":0.079},{"series":"$1k < i < $10k","minute":1257,"cvd":0.1},{"series":"$1k < i < $10k","minute":1270,"cvd":0.118},{"series":"$1k < i < $10k","minute":1294,"cvd":0.098},{"series":"$1k < i < $10k","minute":1321,"cvd":0.087},{"series":"$1k < i < $10k","minute":1347,"cvd":0.072},{"series":"$1k < i < $10k","minute":1365,"cvd":0.075},{"series":"$1k < i < $10k","minute":1380,"cvd":0.017},{"series":"$1k < i < $10k","minute":1389,"cvd":0.037},{"series":"$1k < i < $10k","minute":1404,"cvd":0.037},{"series":"$1k < i < $10k","minute":1411,"cvd":0.064},{"series":"$1k < i < $10k","minute":1422,"cvd":0.056},{"series":"$1k < i < $10k","minute":1439,"cvd":0.002},{"series":"$1k < i < $10k","minute":1457,"cvd":0.002},{"series":"$1k < i < $10k","minute":1479,"cvd":0.044},{"series":"$1k < i < $10k","minute":1496,"cvd":0.168},{"series":"$1k < i < $10k","minute":1505,"cvd":0.193},{"series":"$1k < i < $10k","minute":1514,"cvd":0.153},{"series":"$1k < i < $10k","minute":1536,"cvd":0.153},{"series":"$1k < i < $10k","minute":1549,"cvd":0.201},{"series":"$1k < i < $10k","minute":1566,"cvd":0.185},{"series":"$1k < i < $10k","minute":1575,"cvd":0.199},{"series":"$1k < i < $10k","minute":1590,"cvd":0.192},{"series":"$1k < i < $10k","minute":1599,"cvd":0.173},{"series":"$1k < i < $10k","minute":1615,"cvd":0.188},
{"series":"$10k < i < $100k","minute":191,"cvd":0.997},{"series":"$10k < i < $100k","minute":207,"cvd":0.991},{"series":"$10k < i < $100k","minute":213,"cvd":0.972},{"series":"$10k < i < $100k","minute":224,"cvd":0.963},{"series":"$10k < i < $100k","minute":237,"cvd":0.967},{"series":"$10k < i < $100k","minute":244,"cvd":0.952},{"series":"$10k < i < $100k","minute":250,"cvd":0.882},{"series":"$10k < i < $100k","minute":261,"cvd":0.835},{"series":"$10k < i < $100k","minute":270,"cvd":0.741},{"series":"$10k < i < $100k","minute":277,"cvd":0.757},{"series":"$10k < i < $100k","minute":299,"cvd":0.746},{"series":"$10k < i < $100k","minute":312,"cvd":0.765},{"series":"$10k < i < $100k","minute":325,"cvd":0.749},{"series":"$10k < i < $100k","minute":336,"cvd":0.773},{"series":"$10k < i < $100k","minute":343,"cvd":0.804},{"series":"$10k < i < $100k","minute":354,"cvd":0.855},{"series":"$10k < i < $100k","minute":369,"cvd":0.858},{"series":"$10k < i < $100k","minute":375,"cvd":0.877},{"series":"$10k < i < $100k","minute":391,"cvd":0.863},{"series":"$10k < i < $100k","minute":404,"cvd":0.874},{"series":"$10k < i < $100k","minute":417,"cvd":0.835},{"series":"$10k < i < $100k","minute":426,"cvd":0.824},{"series":"$10k < i < $100k","minute":435,"cvd":0.854},{"series":"$10k < i < $100k","minute":448,"cvd":0.858},{"series":"$10k < i < $100k","minute":465,"cvd":0.824},{"series":"$10k < i < $100k","minute":483,"cvd":0.827},{"series":"$10k < i < $100k","minute":496,"cvd":0.791},{"series":"$10k < i < $100k","minute":511,"cvd":0.777},{"series":"$10k < i < $100k","minute":527,"cvd":0.776},{"series":"$10k < i < $100k","minute":536,"cvd":0.757},{"series":"$10k < i < $100k","minute":551,"cvd":0.745},{"series":"$10k < i < $100k","minute":560,"cvd":0.71},{"series":"$10k < i < $100k","minute":577,"cvd":0.713},{"series":"$10k < i < $100k","minute":590,"cvd":0.723},{"series":"$10k < i < $100k","minute":606,"cvd":0.667},{"series":"$10k < i < $100k","minute":619,"cvd":0.651},{"series":"$10k < i < $100k","minute":639,"cvd":0.64},{"series":"$10k < i < $100k","minute":645,"cvd":0.609},{"series":"$10k < i < $100k","minute":663,"cvd":0.62},{"series":"$10k < i < $100k","minute":674,"cvd":0.586},{"series":"$10k < i < $100k","minute":693,"cvd":0.593},{"series":"$10k < i < $100k","minute":713,"cvd":0.604},{"series":"$10k < i < $100k","minute":731,"cvd":0.578},{"series":"$10k < i < $100k","minute":739,"cvd":0.469},{"series":"$10k < i < $100k","minute":746,"cvd":0.445},{"series":"$10k < i < $100k","minute":757,"cvd":0.417},{"series":"$10k < i < $100k","minute":759,"cvd":0.344},{"series":"$10k < i < $100k","minute":783,"cvd":0.36},{"series":"$10k < i < $100k","minute":810,"cvd":0.333},{"series":"$10k < i < $100k","minute":814,"cvd":0.259},{"series":"$10k < i < $100k","minute":821,"cvd":0.255},{"series":"$10k < i < $100k","minute":825,"cvd":0.181},{"series":"$10k < i < $100k","minute":836,"cvd":0.173},{"series":"$10k < i < $100k","minute":847,"cvd":0.188},{"series":"$10k < i < $100k","minute":869,"cvd":0.184},{"series":"$10k < i < $100k","minute":880,"cvd":0.212},{"series":"$10k < i < $100k","minute":913,"cvd":0.199},{"series":"$10k < i < $100k","minute":932,"cvd":0.215},{"series":"$10k < i < $100k","minute":950,"cvd":0.193},{"series":"$10k < i < $100k","minute":974,"cvd":0.192},{"series":"$10k < i < $100k","minute":985,"cvd":0.204},{"series":"$10k < i < $100k","minute":1000,"cvd":0.181},{"series":"$10k < i < $100k","minute":1014,"cvd":0.188},{"series":"$10k < i < $100k","minute":1033,"cvd":0.173},{"series":"$10k < i < $100k","minute":1051,"cvd":0.111},{"series":"$10k < i < $100k","minute":1064,"cvd":0.118},{"series":"$10k < i < $100k","minute":1082,"cvd":0.121},{"series":"$10k < i < $100k","minute":1106,"cvd":0.103},{"series":"$10k < i < $100k","minute":1119,"cvd":0.083},{"series":"$10k < i < $100k","minute":1145,"cvd":0.1},{"series":"$10k < i < $100k","minute":1152,"cvd":0.134},{"series":"$10k < i < $100k","minute":1158,"cvd":0.118},{"series":"$10k < i < $100k","minute":1169,"cvd":0.111},{"series":"$10k < i < $100k","minute":1175,"cvd":0.025},{"series":"$10k < i < $100k","minute":1189,"cvd":0.006},{"series":"$10k < i < $100k","minute":1200,"cvd":0.017},{"series":"$10k < i < $100k","minute":1224,"cvd":0.056},{"series":"$10k < i < $100k","minute":1235,"cvd":0.09},{"series":"$10k < i < $100k","minute":1244,"cvd":0.106},{"series":"$10k < i < $100k","minute":1264,"cvd":0.173},{"series":"$10k < i < $100k","minute":1290,"cvd":0.184},{"series":"$10k < i < $100k","minute":1314,"cvd":0.212},{"series":"$10k < i < $100k","minute":1347,"cvd":0.224},{"series":"$10k < i < $100k","minute":1367,"cvd":0.251},{"series":"$10k < i < $100k","minute":1391,"cvd":0.282},{"series":"$10k < i < $100k","minute":1406,"cvd":0.287},{"series":"$10k < i < $100k","minute":1415,"cvd":0.316},{"series":"$10k < i < $100k","minute":1439,"cvd":0.305},{"series":"$10k < i < $100k","minute":1461,"cvd":0.326},{"series":"$10k < i < $100k","minute":1479,"cvd":0.329},{"series":"$10k < i < $100k","minute":1496,"cvd":0.349},{"series":"$10k < i < $100k","minute":1505,"cvd":0.349},{"series":"$10k < i < $100k","minute":1511,"cvd":0.318},{"series":"$10k < i < $100k","minute":1533,"cvd":0.308},{"series":"$10k < i < $100k","minute":1540,"cvd":0.318},{"series":"$10k < i < $100k","minute":1553,"cvd":0.313},{"series":"$10k < i < $100k","minute":1569,"cvd":0.293},{"series":"$10k < i < $100k","minute":1595,"cvd":0.274},{"series":"$10k < i < $100k","minute":1602,"cvd":0.212},{"series":"$10k < i < $100k","minute":1615,"cvd":0.207},
{"series":"$100k < i < $1M","minute":191,"cvd":0.96},{"series":"$100k < i < $1M","minute":209,"cvd":0.96},{"series":"$100k < i < $1M","minute":213,"cvd":0.952},{"series":"$100k < i < $1M","minute":242,"cvd":0.952},{"series":"$100k < i < $1M","minute":255,"cvd":0.941},{"series":"$100k < i < $1M","minute":259,"cvd":0.866},{"series":"$100k < i < $1M","minute":270,"cvd":0.812},{"series":"$100k < i < $1M","minute":277,"cvd":0.816},{"series":"$100k < i < $1M","minute":283,"cvd":0.799},{"series":"$100k < i < $1M","minute":292,"cvd":0.796},{"series":"$100k < i < $1M","minute":301,"cvd":0.773},{"series":"$100k < i < $1M","minute":314,"cvd":0.78},{"series":"$100k < i < $1M","minute":329,"cvd":0.78},{"series":"$100k < i < $1M","minute":338,"cvd":0.769},{"series":"$100k < i < $1M","minute":345,"cvd":0.773},{"series":"$100k < i < $1M","minute":356,"cvd":0.827},{"series":"$100k < i < $1M","minute":369,"cvd":0.85},{"series":"$100k < i < $1M","minute":375,"cvd":0.897},{"series":"$100k < i < $1M","minute":428,"cvd":0.897},{"series":"$100k < i < $1M","minute":435,"cvd":0.944},{"series":"$100k < i < $1M","minute":457,"cvd":0.963},{"series":"$100k < i < $1M","minute":472,"cvd":0.983},{"series":"$100k < i < $1M","minute":481,"cvd":0.984},{"series":"$100k < i < $1M","minute":487,"cvd":0.995},{"series":"$100k < i < $1M","minute":496,"cvd":0.978},{"series":"$100k < i < $1M","minute":509,"cvd":0.986},{"series":"$100k < i < $1M","minute":516,"cvd":0.952},{"series":"$100k < i < $1M","minute":547,"cvd":0.952},{"series":"$100k < i < $1M","minute":555,"cvd":0.863},{"series":"$100k < i < $1M","minute":586,"cvd":0.866},{"series":"$100k < i < $1M","minute":590,"cvd":0.897},{"series":"$100k < i < $1M","minute":606,"cvd":0.9},{"series":"$100k < i < $1M","minute":619,"cvd":0.903},{"series":"$100k < i < $1M","minute":636,"cvd":0.885},{"series":"$100k < i < $1M","minute":645,"cvd":0.791},{"series":"$100k < i < $1M","minute":663,"cvd":0.791},{"series":"$100k < i < $1M","minute":671,"cvd":0.757},{"series":"$100k < i < $1M","minute":720,"cvd":0.757},{"series":"$100k < i < $1M","minute":726,"cvd":0.715},{"series":"$100k < i < $1M","minute":733,"cvd":0.71},{"series":"$100k < i < $1M","minute":744,"cvd":0.586},{"series":"$100k < i < $1M","minute":757,"cvd":0.523},{"series":"$100k < i < $1M","minute":761,"cvd":0.505},{"series":"$100k < i < $1M","minute":770,"cvd":0.508},{"series":"$100k < i < $1M","minute":779,"cvd":0.495},{"series":"$100k < i < $1M","minute":788,"cvd":0.516},{"series":"$100k < i < $1M","minute":810,"cvd":0.511},{"series":"$100k < i < $1M","minute":815,"cvd":0.422},{"series":"$100k < i < $1M","minute":829,"cvd":0.438},{"series":"$100k < i < $1M","minute":845,"cvd":0.43},{"series":"$100k < i < $1M","minute":849,"cvd":0.375},{"series":"$100k < i < $1M","minute":864,"cvd":0.352},{"series":"$100k < i < $1M","minute":926,"cvd":0.352},{"series":"$100k < i < $1M","minute":941,"cvd":0.293},{"series":"$100k < i < $1M","minute":957,"cvd":0.29},{"series":"$100k < i < $1M","minute":961,"cvd":0.263},{"series":"$100k < i < $1M","minute":994,"cvd":0.262},{"series":"$100k < i < $1M","minute":1003,"cvd":0.24},{"series":"$100k < i < $1M","minute":1038,"cvd":0.248},{"series":"$100k < i < $1M","minute":1051,"cvd":0.199},{"series":"$100k < i < $1M","minute":1110,"cvd":0.199},{"series":"$100k < i < $1M","minute":1123,"cvd":0.15},{"series":"$100k < i < $1M","minute":1134,"cvd":0.165},{"series":"$100k < i < $1M","minute":1150,"cvd":0.126},{"series":"$100k < i < $1M","minute":1158,"cvd":0.131},{"series":"$100k < i < $1M","minute":1169,"cvd":0.118},{"series":"$100k < i < $1M","minute":1175,"cvd":0.033},{"series":"$100k < i < $1M","minute":1191,"cvd":0.04},{"series":"$100k < i < $1M","minute":1200,"cvd":0.017},{"series":"$100k < i < $1M","minute":1218,"cvd":0.006},{"series":"$100k < i < $1M","minute":1226,"cvd":0.037},{"series":"$100k < i < $1M","minute":1251,"cvd":0.028},{"series":"$100k < i < $1M","minute":1257,"cvd":0.048},{"series":"$100k < i < $1M","minute":1277,"cvd":0.033},{"series":"$100k < i < $1M","minute":1290,"cvd":0.033},{"series":"$100k < i < $1M","minute":1299,"cvd":0.048},{"series":"$100k < i < $1M","minute":1321,"cvd":0.087},{"series":"$100k < i < $1M","minute":1382,"cvd":0.09},{"series":"$100k < i < $1M","minute":1400,"cvd":0.095},{"series":"$100k < i < $1M","minute":1415,"cvd":0.123},{"series":"$100k < i < $1M","minute":1430,"cvd":0.118},{"series":"$100k < i < $1M","minute":1439,"cvd":0.107},{"series":"$100k < i < $1M","minute":1457,"cvd":0.106},{"series":"$100k < i < $1M","minute":1465,"cvd":0.087},{"series":"$100k < i < $1M","minute":1474,"cvd":0.084},{"series":"$100k < i < $1M","minute":1490,"cvd":0.064},{"series":"$100k < i < $1M","minute":1496,"cvd":0.129},{"series":"$100k < i < $1M","minute":1505,"cvd":0.129},{"series":"$100k < i < $1M","minute":1511,"cvd":0.072},{"series":"$100k < i < $1M","minute":1533,"cvd":0.064},{"series":"$100k < i < $1M","minute":1540,"cvd":0.087},{"series":"$100k < i < $1M","minute":1555,"cvd":0.098},{"series":"$100k < i < $1M","minute":1582,"cvd":0.095},{"series":"$100k < i < $1M","minute":1590,"cvd":0.103},{"series":"$100k < i < $1M","minute":1599,"cvd":0.028},{"series":"$100k < i < $1M","minute":1615,"cvd":0.019},
{"series":"$1M < i < $10M","minute":191,"cvd":0},{"series":"$1M < i < $10M","minute":755,"cvd":0},{"series":"$1M < i < $10M","minute":760,"cvd":0.998},{"series":"$1M < i < $10M","minute":1615,"cvd":0.998}
],
"flask":[{"step":1,"minute":228,"cvd":0.327},{"step":2,"minute":254.5,"cvd":0.327},{"step":3,"minute":254.5,"cvd":0.243},{"step":4,"minute":290,"cvd":0.037},{"step":5,"minute":281,"cvd":0.005},{"step":6,"minute":198,"cvd":0.005},{"step":7,"minute":191,"cvd":0.037},{"step":8,"minute":228,"cvd":0.243},{"step":9,"minute":228,"cvd":0.327}],
"liquid":[{"minute":200,"cvd":0.05,"base":0.012},{"minute":224,"cvd":0.1,"base":0.012},{"minute":244,"cvd":0.12,"base":0.012},{"minute":264,"cvd":0.13,"base":0.012},{"minute":277,"cvd":0.09,"base":0.012},{"minute":285,"cvd":0.03,"base":0.012}],
"watermark":[{"minute":307,"cvd":0.243,"label":"MATERIAL"},{"minute":307,"cvd":0.079,"label":"INDICATORS"}],
"koreanNote":[{"minute":1295,"cvd":0.673,"label":"곰지네 트레이딩 CVD"}],
"notes":[{"minute":1273,"cvd":0.537,"label":"Powered By Material Indictors"},{"minute":1454,"cvd":-0.336,"label":"https://t.me/oddstrading2"}]
},
"vconcat":[
{"width":1086,"height":297,"title":{"text":"SOL_USDT","anchor":"start","frame":"group","font":"Liberation Sans","fontSize":18.5,"fontWeight":"bold","color":"#000000","offset":7.5},
"encoding":{"x":{"field":"minute","type":"quantitative","scale":{"domain":[186,1615],"nice":false,"zero":false},"axis":null}},
"layer":[
{"data":{"name":"heat"},"mark":{"type":"rect","height":11.9},
"encoding":{"x2":{"field":"end"},
"y":{"field":"price","type":"quantitative","scale":{"domain":[175.4,201.5],"nice":false,"zero":false},"axis":{"orient":"right","title":"Price [USDT]","values":[180,185,190,195,200],"format":".2f","grid":false,"tickSize":8,"labelPadding":3,"titlePadding":12}},
"color":{"field":"vol","type":"quantitative","scale":{"domain":[0,5.5,11.3,15.1],"range":["#0b0000","#ff0000","#ffff00","#ffffff"],"interpolate":"rgb"},"legend":{"type":"gradient","orient":"none","legendX":-103,"legendY":21,"direction":"vertical","title":"Volume","titleFontStyle":"italic","titleFontWeight":"normal","titleFontSize":14,"titleColor":"#444444","titlePadding":3,"gradientLength":248,"gradientThickness":28,"gradientStrokeColor":"#000000","gradientStrokeWidth":1,"values":[0,2,4,6,8,10,12,14],"labelFontSize":13,"labelColor":"#444444","labelBaseline":"middle","labelOffset":7,"labelOverlap":false,"labelExpr":"datum.value==0?'\u00a0\u00a00':(datum.value>=10?format(datum.value,'.1f'):'\u00a0\u00a0\u00a0'+format(datum.value,'d'))+' M'"}}}},
{"data":{"name":"priceLine"},"mark":{"type":"line","color":"#2a78ad","strokeWidth":2.5},
"encoding":{"y":{"field":"price","type":"quantitative","axis":{"orient":"right","title":null,"values":[176,177,178,179,181,182,183,184,186,187,188,189,191,192,193,194,196,197,198,199,201],"labels":false,"domain":false,"grid":false,"tickSize":4}}}}
],"resolve":{"axis":{"y":"independent"}},"view":{"stroke":"#dddddd"}},
{"width":1086,"height":214,
"encoding":{"x":{"field":"minute","type":"quantitative","scale":{"domain":[186,1615],"nice":false,"zero":false},"axis":{"title":"Date (UTC)","values":[240,480,720,960,1200,1440],"labelExpr":"datum.value==1440?'10/31':format(datum.value/60,'d')+'h'","grid":true,"gridColor":"#e6e6e6","tickSize":8,"labelPadding":6,"titlePadding":9}}},
"layer":[
{"data":{"name":"liquid"},"mark":{"type":"area","color":"#e6eef3"},"encoding":{"y":{"field":"cvd","type":"quantitative","scale":{"domain":[0,1],"nice":false},"axis":null},"y2":{"field":"base"}}},
{"data":{"name":"flask"},"mark":{"type":"line","color":"#e8e8e8","strokeWidth":2},"encoding":{"order":{"field":"step"},"y":{"field":"cvd","type":"quantitative","axis":{"orient":"left","title":null,"values":[0.04,0.08,0.12,0.16,0.24,0.28,0.32,0.36,0.44,0.48,0.52,0.56,0.64,0.68,0.72,0.76,0.84,0.88,0.92,0.96],"labels":false,"domain":false,"grid":false,"tickSize":4}}}},
{"data":{"name":"watermark"},"mark":{"type":"text","align":"left","baseline":"middle","font":"Liberation Sans","fontWeight":"bold","fontSize":28,"color":"#e0e0e0"},"encoding":{"y":{"field":"cvd","type":"quantitative","axis":null},"text":{"field":"label"}}},
{"data":{"name":"cvd"},"mark":{"type":"line","strokeWidth":2.2},
"encoding":{"y":{"field":"cvd","type":"quantitative","axis":{"orient":"left","title":"Normalized CVD [arb. u.]","values":[0,0.2,0.4,0.6,0.8,1],"labelExpr":"datum.value==1?'1.000':datum.value==0?'0':format(datum.value*1000,'.2f')+' m'","grid":true,"gridColor":"#e6e6e6","tickSize":8,"labelPadding":4,"titlePadding":10}},
"color":{"field":"series","type":"nominal","scale":{"domain":["all orders","$100 < i < $1k","$1k < i < $10k","$10k < i < $100k","$100k < i < $1M","$1M < i < $10M"],"range":["#1f77b4","#ff7f0e","#2ca02c","#d62728","#9467bd","#8c564b"]},
"legend":{"orient":"none","legendX":-94,"legendY":289,"title":null,"direction":"horizontal","columns":6,"columnPadding":-3.5,"symbolType":"stroke","symbolSize":484,"symbolStrokeWidth":2.5,"labelFontSize":12.5,"labelColor":"#444444","labelOffset":5,"fillColor":"#ffffff","strokeColor":"#eeeeee","padding":12}}}},
{"data":{"name":"koreanNote"},"mark":{"type":"text","align":"center","baseline":"middle","font":"Noto Sans CJK KR","fontSize":27.5,"color":"#000000"},"encoding":{"y":{"field":"cvd","type":"quantitative","axis":null},"text":{"field":"label"}}},
{"data":{"name":"notes"},"mark":{"type":"text","align":"center","baseline":"middle","font":"Noto Sans CJK KR","fontSize":25.7,"color":"#000000"},"encoding":{"y":{"field":"cvd","type":"quantitative","axis":null},"text":{"field":"label"}}}
],"resolve":{"axis":{"y":"independent"}},"view":{"stroke":"#e6e6e6"}}
],
"spacing":23,"bounds":"flush","resolve":{"scale":{"color":"independent"}}}
